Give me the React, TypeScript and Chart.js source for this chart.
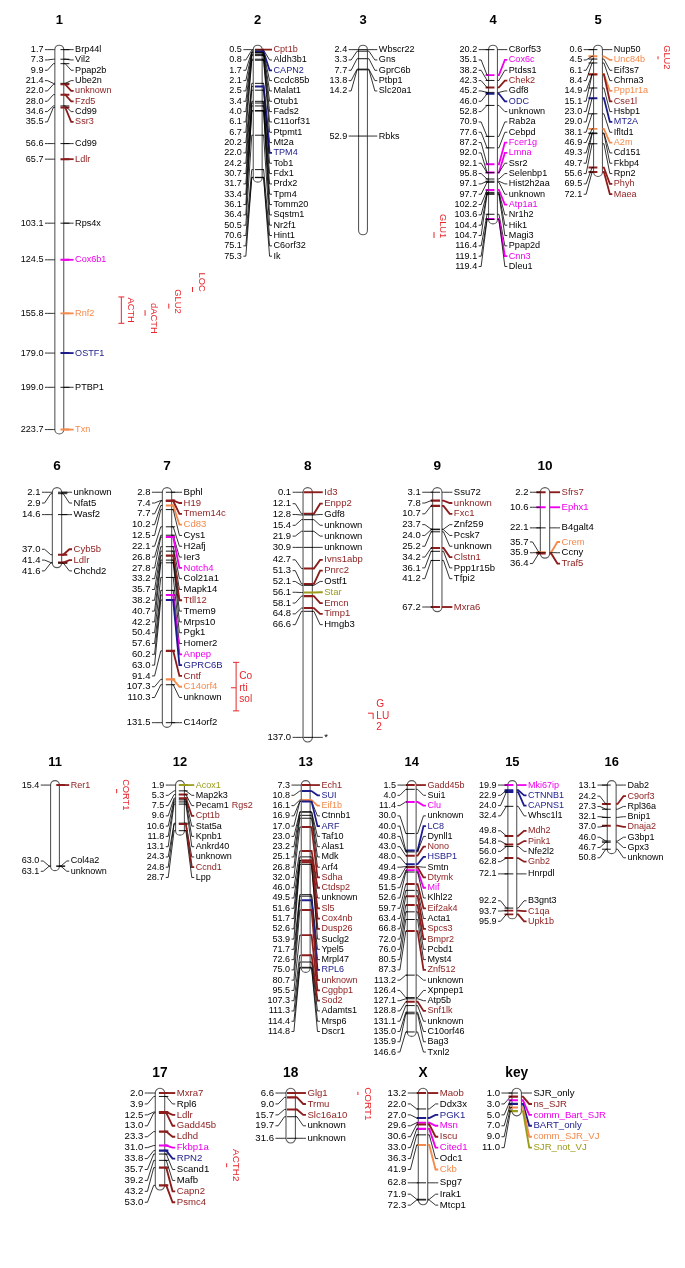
import React, { useEffect, useRef } from 'react';
import { Chart, registerables } from 'chart.js';

Chart.register(...registerables);

const W = 685;
const H = 1268;

// ---------------- DATA ----------------
// category codes: K = SJR_only, R = ns_SJR, M = comm_Bart_SJR, B = BART_only, O = comm_SJR_VJ, Y = SJR_not_VJ
const chr1Pos = [1.7, 7.3, 9.9, 21.4, 22.0, 28.0, 34.6, 35.5, 56.6, 65.7, 103.1, 124.5, 155.8, 179.0, 199.0, 223.7];
const chr1Genes = ['Brp44l', 'Vil2', 'Ppap2b', 'Ube2n', 'unknown', 'Fzd5', 'Cd99', 'Ssr3', 'Cd99', 'Ldlr', 'Rps4x', 'Cox6b1', 'Rnf2', 'OSTF1', 'PTBP1', 'Txn'];
const chr1Cats = 'KKKKRRKRKRKMOBKO';

const chr2Pos = [0.5, 0.8, 1.7, 2.1, 2.5, 3.4, 4.0, 6.1, 6.7, 20.2, 22.0, 24.2, 30.7, 31.7, 33.4, 36.1, 36.4, 50.5, 70.6, 75.1, 75.3];
const chr2Genes = ['Cpt1b', 'Aldh3b1', 'CAPN2', 'Ccdc85b', 'Malat1', 'Otub1', 'Fads2', 'C11orf31', 'Ptpmt1', 'Mt2a', 'TPM4', 'Tob1', 'Fdx1', 'Prdx2', 'Tpm4', 'Tomm20', 'Sqstm1', 'Nr2f1', 'Hint1', 'C6orf32', 'Ik'];
const chr2Cats = 'RKBKKKKKKKBKKKKKKKKKK';

const chr3Pos = [2.4, 3.3, 7.7, 13.8, 14.2, 52.9];
const chr3Genes = ['Wbscr22', 'Gns', 'GprC6b', 'Ptbp1', 'Slc20a1', 'Rbks'];
const chr3Cats = 'KKKKKK';

const chr4Pos = [20.2, 35.1, 38.2, 42.3, 45.2, 46.0, 52.8, 70.9, 77.6, 87.2, 92.0, 92.1, 95.8, 97.1, 97.7, 102.2, 103.6, 104.4, 104.7, 116.4, 119.1, 119.4];
const chr4Genes = ['C8orf53', 'Cox6c', 'Ptdss1', 'Chek2', 'Gdf8', 'ODC', 'unknown', 'Rab2a', 'Cebpd', 'Fcer1g', 'Lmna', 'Ssr2', 'Selenbp1', 'Hist2h2aa', 'unknown', 'Atp1a1', 'Nr1h2', 'Hik1', 'Magi3', 'Ppap2d', 'Cnn3', 'Dleu1'];
const chr4Cats = 'KMKRKBKKKMMKKKKMKKKKMK';

const chr5Pos = [0.6, 4.5, 6.1, 8.4, 14.9, 15.1, 23.0, 29.0, 38.1, 46.9, 49.3, 49.7, 55.6, 69.5, 72.1];
const chr5Genes = ['Nup50', 'Unc84b', 'Eif3s7', 'Chrna3', 'Ppp1r1a', 'Cse1l', 'Hsbp1', 'MT2A', 'Ifltd1', 'A2m', 'Cd151', 'Fkbp4', 'Rpn2', 'Phyh', 'Maea'];
const chr5Cats = 'KOKKORKBKOKKKRR';

const chr6Pos = [2.1, 2.9, 14.6, 37.0, 41.4, 41.6];
const chr6Genes = ['unknown', 'Nfat5', 'Wasf2', 'Cyb5b', 'Ldlr', 'Chchd2'];
const chr6Cats = 'KKKRRK';

const chr7Pos = [2.8, 7.4, 7.7, 10.2, 12.5, 22.1, 26.8, 27.8, 33.2, 35.7, 38.2, 40.7, 42.2, 50.4, 57.6, 60.2, 63.0, 91.4, 107.3, 110.3, 131.5];
const chr7Genes = ['Bphl', 'H19', 'Tmem14c', 'Cd83', 'Cys1', 'H2afj', 'Ier3', 'Notch4', 'Col21a1', 'Mapk14', 'Ttll12', 'Tmem9', 'Mrps10', 'Pgk1', 'Homer2', 'Anpep', 'GPRC6B', 'Cntf', 'C14orf4', 'unknown', 'C14orf2'];
const chr7Cats = 'KRROKKKMKKRKKKKMBROKK';

const chr8Pos = [0.1, 12.1, 12.8, 15.4, 21.9, 30.9, 42.7, 51.3, 52.1, 56.1, 58.1, 64.8, 66.6, 137.0];
const chr8Genes = ['Id3', 'Enpp2', 'Gdf8', 'unknown', 'unknown', 'unknown', 'Ivns1abp', 'Pnrc2', 'Ostf1', 'Star', 'Emcn', 'Timp1', 'Hmgb3', '*'];
const chr8Cats = 'RRKKKKRRKYRRKK';

const chr9Pos = [3.1, 7.8, 10.7, 23.7, 24.0, 25.2, 34.2, 36.1, 41.2, 67.2];
const chr9Genes = ['Ssu72', 'unknown', 'Fxc1', 'Znf259', 'Pcsk7', 'unknown', 'Clstn1', 'Ppp1r15b', 'Tfpi2', 'Mxra6'];
const chr9Cats = 'KRRKKKRKKR';

const chr10Pos = [2.2, 10.6, 22.1, 35.7, 35.9, 36.4];
const chr10Genes = ['Sfrs7', 'Ephx1', 'B4galt4', 'Crem', 'Ccny', 'Traf5'];
const chr10Cats = 'RMKOKR';

const chr11Pos = [15.4, 63.0, 63.1];
const chr11Genes = ['Rer1', 'Col4a2', 'unknown'];
const chr11Cats = 'RKK';

const chr12Pos = [1.9, 5.3, 7.5, 9.6, 10.6, 11.8, 13.1, 24.3, 24.8, 28.7];
const chr12Genes = ['Acox1', 'Map2k3', 'Pecam1', 'Cpt1b', 'Stat5a', 'Kpnb1', 'Ankrd40', 'unknown', 'Ccnd1', 'Lpp'];
const chr12Cats = 'YKKRKKKKRK';

const chr13Pos = [7.3, 10.8, 16.1, 16.9, 17.0, 23.0, 23.2, 25.1, 26.8, 32.0, 46.0, 49.5, 51.6, 51.7, 52.6, 53.9, 71.7, 72.6, 75.0, 80.7, 95.5, 107.3, 111.3, 114.4, 114.8];
const chr13Genes = ['Ech1', 'SUI', 'Eif1b', 'Ctnnb1', 'ARF', 'Taf10', 'Alas1', 'Mdk', 'Arf4', 'Sdha', 'Ctdsp2', 'unknown', 'Sl5', 'Cox4nb', 'Dusp26', 'Suclg2', 'Ypel5', 'Mrpl47', 'RPL6', 'unknown', 'Cggbp1', 'Sod2', 'Adamts1', 'Mrsp6', 'Dscr1'];
const chr13Cats = 'RBOKBKKKKRRKRRRKKKBRRRKKK';

const chr14Pos = [1.5, 4.0, 11.4, 30.0, 40.0, 40.8, 43.0, 48.0, 49.4, 49.8, 51.5, 52.6, 59.7, 63.4, 66.8, 72.0, 76.0, 80.5, 87.3, 113.2, 126.4, 127.1, 128.8, 131.1, 135.0, 135.9, 146.6];
const chr14Genes = ['Gadd45b', 'Sui1', 'Clu', 'unknown', 'LC8', 'Dynll1', 'Nono', 'HSBP1', 'Smtn', 'Dtymk', 'Mif', 'Klhl22', 'Eif2ak4', 'Acta1', 'Spcs3', 'Bmpr2', 'Pcbd1', 'Myst4', 'Znf512', 'unknown', 'Xpnpep1', 'Atp5b', 'Snf1lk', 'unknown', 'C10orf46', 'Bag3', 'Txnl2'];
const chr14Cats = 'RKMKBKRBKRMKRKRRKKRKKKRKKKK';

const chr15Pos = [19.9, 22.9, 24.0, 32.4, 49.8, 54.8, 56.0, 62.8, 72.1, 92.2, 93.7, 95.9];
const chr15Genes = ['Mki67ip', 'CTNNB1', 'CAPNS1', 'Whsc1l1', 'Mdh2', 'Pink1', 'Nfe2l2', 'Gnb2', 'Hnrpdl', 'B3gnt3', 'C1qa', 'Upk1b'];
const chr15Cats = 'MBBKRRKRKKRR';

const chr16Pos = [13.1, 24.2, 27.3, 32.1, 37.0, 46.0, 46.7, 50.8];
const chr16Genes = ['Dab2', 'C9orf3', 'Rpl36a', 'Bnip1', 'Dnaja2', 'G3bp1', 'Gpx3', 'unknown'];
const chr16Cats = 'KRKKRKKK';

const chr17Pos = [2.0, 3.9, 12.5, 13.0, 23.3, 31.0, 33.8, 35.7, 39.2, 43.2, 53.0];
const chr17Genes = ['Mxra7', 'Rpl6', 'Ldlr', 'Gadd45b', 'Ldhd', 'Fkbp1a', 'RPN2', 'Scand1', 'Mafb', 'Capn2', 'Psmc4'];
const chr17Cats = 'RKRRRMBKKRR';

const chr18Pos = [6.6, 9.0, 15.7, 19.7, 31.6];
const chr18Genes = ['Glg1', 'Trmu', 'Slc16a10', 'unknown', 'unknown'];
const chr18Cats = 'RRRKK';

const chrXPos = [13.2, 22.0, 27.0, 29.6, 30.6, 33.0, 36.3, 41.9, 62.8, 71.9, 72.3];
const chrXGenes = ['Maob', 'Ddx3x', 'PGK1', 'Msn', 'Iscu', 'Cited1', 'Odc1', 'Ckb', 'Spg7', 'Irak1', 'Mtcp1'];
const chrXCats = 'RKBMRMKOKKK';

const keyPos = [1.0, 3.0, 5.0, 7.0, 9.0, 11.0];
const keyGenes = ['SJR_only', 'ns_SJR', 'comm_Bart_SJR', 'BART_only', 'comm_SJR_VJ', 'SJR_not_VJ'];
const keyCats = 'KRMBOY';

// chromosome ends that go beyond the last marker (cM)
const chromEndIds = ['3'];
const chromEndValues = [108];

// second gene name sharing a marker position
const extraChrom = ['12'];
const extraPos = [7.5];
const extraName = ['Rgs2'];
const extraCat = ['R'];

// QTL intervals (cM)
const qtlChrom = ['1', '1', '1', '1', '3', '5', '7', '8', '11', '17', '18'];
const qtlText = ['ACTH', 'dACTH', 'GLU2', 'LOC', 'GLU1', 'GLU2', 'Co|rti|sol', 'G|LU|2', 'CORT1', 'ACTH2', 'CORT1'];
const qtlFrom = [146.2, 153.9, 150.1, 140.4, 109.0, 4.5, 97.8, 123.5, 17.7, 40.8, 5.9];
const qtlTo = [161.6, 157.2, 153.0, 143.3, 112.5, 6.2, 124.9, 126.8, 20.2, 43.0, 7.7];
const qtlPeak: (number | null)[] = [null, null, null, null, null, null, 112.0, 123.5, null, null, null];
const qtlTextAt = [153.9, 158.7, 148.8, 137.5, 105.5, 5.1, 112.0, 125.1, 21.1, 41.9, 12.6];
const qtlColumn = [0, 1, 2, 3, 0.4, 0, 0, 0, 0, 0, 0];

const CAT_COLORS: Record<string, string> = {
  K: '#000000',
  R: '#8c1d1d',
  M: '#ee00ee',
  B: '#1c1c8c',
  O: '#f48a4c',
  Y: '#9b9b1b',
};
const QTL_COLOR = '#e8262c';

// ---------------- LAYOUT ----------------
type Chrom = { id: string; pos: number[]; genes: string[]; cats: string };
const CHROMS: Chrom[] = [
  { id: '1', pos: chr1Pos, genes: chr1Genes, cats: chr1Cats },
  { id: '2', pos: chr2Pos, genes: chr2Genes, cats: chr2Cats },
  { id: '3', pos: chr3Pos, genes: chr3Genes, cats: chr3Cats },
  { id: '4', pos: chr4Pos, genes: chr4Genes, cats: chr4Cats },
  { id: '5', pos: chr5Pos, genes: chr5Genes, cats: chr5Cats },
  { id: '6', pos: chr6Pos, genes: chr6Genes, cats: chr6Cats },
  { id: '7', pos: chr7Pos, genes: chr7Genes, cats: chr7Cats },
  { id: '8', pos: chr8Pos, genes: chr8Genes, cats: chr8Cats },
  { id: '9', pos: chr9Pos, genes: chr9Genes, cats: chr9Cats },
  { id: '10', pos: chr10Pos, genes: chr10Genes, cats: chr10Cats },
  { id: '11', pos: chr11Pos, genes: chr11Genes, cats: chr11Cats },
  { id: '12', pos: chr12Pos, genes: chr12Genes, cats: chr12Cats },
  { id: '13', pos: chr13Pos, genes: chr13Genes, cats: chr13Cats },
  { id: '14', pos: chr14Pos, genes: chr14Genes, cats: chr14Cats },
  { id: '15', pos: chr15Pos, genes: chr15Genes, cats: chr15Cats },
  { id: '16', pos: chr16Pos, genes: chr16Genes, cats: chr16Cats },
  { id: '17', pos: chr17Pos, genes: chr17Genes, cats: chr17Cats },
  { id: '18', pos: chr18Pos, genes: chr18Genes, cats: chr18Cats },
  { id: 'X', pos: chrXPos, genes: chrXGenes, cats: chrXCats },
  { id: 'key', pos: keyPos, genes: keyGenes, cats: keyCats },
];

type Row = { ids: string[]; centers: number[]; titleY: number; topY: number; k: number };
const ROWS: Row[] = [
  { ids: ['1', '2', '3', '4', '5'], centers: [59.3, 257.7, 363, 493, 598], titleY: 20, topY: 43.3, k: 1.73 },
  { ids: ['6', '7', '8', '9', '10'], centers: [57, 167, 307.7, 437.3, 545], titleY: 466, topY: 490.7, k: 1.81 },
  { ids: ['11', '12', '13', '14', '15', '16'], centers: [55, 180, 305.7, 411.7, 512.3, 611.7], titleY: 762, topY: 786.7, k: 1.72 },
  { ids: ['17', '18', 'X', 'key'], centers: [160, 290.7, 423, 516.7], titleY: 1073, topY: 1098, k: 1.83 },
];

type Placed = { chrom: Chrom; cx: number; row: Row };
const PLACED: Placed[] = [];
ROWS.forEach((row) => {
  row.ids.forEach((id, j) => {
    const chrom = CHROMS.find((c) => c.id === id)!;
    PLACED.push({ chrom, cx: row.centers[j], row });
  });
});

const FONT = '"Liberation Sans", Arial, Helvetica, sans-serif';

function chromEnd(c: Chrom): number {
  const i = chromEndIds.indexOf(c.id);
  return i >= 0 ? chromEndValues[i] : c.pos[c.pos.length - 1];
}

function spread(actual: number[], d: number, topBound: number): number[] {
  type G = { i0: number; n: number; sum: number; top: number };
  const gs: G[] = actual.map((a, i) => ({ i0: i, n: 1, sum: a, top: Math.max(a, topBound) }));
  let merged = true;
  while (merged) {
    merged = false;
    for (let j = 0; j < gs.length - 1; j++) {
      const A = gs[j];
      const B = gs[j + 1];
      if (A.top + A.n * d > B.top + 0.01) {
        const n = A.n + B.n;
        const sum = A.sum + B.sum;
        const top = Math.max(topBound, sum / n - ((n - 1) * d) / 2);
        gs.splice(j, 2, { i0: A.i0, n, sum, top });
        merged = true;
        break;
      }
    }
  }
  const out: number[] = new Array(actual.length);
  gs.forEach((g) => {
    for (let t = 0; t < g.n; t++) out[g.i0 + t] = g.top + t * d;
  });
  return out;
}

const mapPlugin = {
  id: 'chromMap',
  beforeDatasetsDraw(chart: any) {
    const ctx: CanvasRenderingContext2D = chart.ctx;
    ctx.save();
    PLACED.forEach(({ chrom, cx, row }) => {
      const ys = chart.scales['y_' + chrom.id];
      const f = row.k / 1.75;
      const hw = 4.5 * f;
      const top = ys.getPixelForValue(chrom.pos[0]) - hw;
      const bot = ys.getPixelForValue(chromEnd(chrom)) + hw;
      ctx.beginPath();
      (ctx as any).roundRect(cx - hw, top, 2 * hw, bot - top, hw);
      ctx.fillStyle = '#ffffff';
      ctx.fill();
      ctx.strokeStyle = '#5a5a5a';
      ctx.lineWidth = 1.1;
      ctx.stroke();
    });
    ctx.restore();
  },
  afterDatasetsDraw(chart: any) {
    const ctx: CanvasRenderingContext2D = chart.ctx;
    ctx.save();
    PLACED.forEach(({ chrom: c, cx, row }) => {
      const ys = chart.scales['y_' + c.id];
      const k = row.k;
      const f = k / 1.75;
      const hw = 4.5 * f;
      const g = 11.5 * f;
      const d = 5.97 * k;
      const fs = 5.25 * k;
      const bl = cx - hw;
      const br = cx + hw;
      const my = c.pos.map((v) => ys.getPixelForValue(v));
      const ly = spread(my, d, my[0]);
      ctx.font = `${fs}px ${FONT}`;
      ctx.textBaseline = 'middle';
      let maxRight = br;
      c.pos.forEach((v, i) => {
        const cat = c.cats[i];
        const col = CAT_COLORS[cat];
        // left connector (black)
        ctx.strokeStyle = '#000';
        ctx.lineWidth = 0.8;
        ctx.beginPath();
        ctx.moveTo(bl - g + 1.5, ly[i]);
        ctx.lineTo(bl - g + 4 * f, ly[i]);
        ctx.lineTo(bl - 1.5 * f, my[i]);
        ctx.lineTo(bl, my[i]);
        ctx.stroke();
        // right connector (category colour)
        ctx.strokeStyle = col;
        ctx.lineWidth = cat === 'K' ? 0.8 : 1.8 * f;
        ctx.beginPath();
        ctx.moveTo(br, my[i]);
        ctx.lineTo(br + 1.5 * f, my[i]);
        ctx.lineTo(br + g - 4 * f, ly[i]);
        ctx.lineTo(br + g - 1.5, ly[i]);
        ctx.stroke();
        // texts
        ctx.fillStyle = '#000';
        ctx.textAlign = 'right';
        ctx.fillText(v.toFixed(1), bl - g, ly[i]);
        ctx.fillStyle = col;
        ctx.textAlign = 'left';
        ctx.fillText(c.genes[i], br + g, ly[i]);
        let right = br + g + ctx.measureText(c.genes[i]).width;
        extraChrom.forEach((ec, e) => {
          if (ec === c.id && extraPos[e] === v) {
            ctx.fillStyle = CAT_COLORS[extraCat[e]];
            const ex = right + 3 * f;
            ctx.fillText(extraName[e], ex, ly[i]);
            right = ex + ctx.measureText(extraName[e]).width;
          }
        });
        maxRight = Math.max(maxRight, right);
      });
      // title
      ctx.font = `bold ${7.5 * k}px ${FONT}`;
      ctx.textAlign = 'center';
      ctx.fillStyle = '#000';
      ctx.fillText(c.id, cx, row.titleY);

      // QTLs
      qtlChrom.forEach((qc, q) => {
        if (qc !== c.id) return;
        const x = maxRight + 10 * f + qtlColumn[q] * 24 * f;
        const y0 = ys.getPixelForValue(qtlFrom[q]);
        const y1 = ys.getPixelForValue(qtlTo[q]);
        ctx.strokeStyle = QTL_COLOR;
        ctx.lineWidth = 1;
        ctx.beginPath();
        ctx.moveTo(x, y0);
        ctx.lineTo(x, y1);
        if (y1 - y0 > 12) {
          ctx.moveTo(x - 3 * f, y0);
          ctx.lineTo(x + 3 * f, y0);
          ctx.moveTo(x - 3 * f, y1);
          ctx.lineTo(x + 3 * f, y1);
        }
        const pk = qtlPeak[q];
        if (pk !== null) {
          const yp = ys.getPixelForValue(pk);
          ctx.moveTo(x - 5 * f, yp);
          ctx.lineTo(x, yp);
        }
        ctx.stroke();
        const yt = ys.getPixelForValue(qtlTextAt[q]);
        ctx.fillStyle = QTL_COLOR;
        const txt = qtlText[q];
        if (txt.indexOf('|') >= 0) {
          const lines = txt.split('|');
          const lh = 11 * f;
          ctx.font = `${5.6 * k}px ${FONT}`;
          ctx.textAlign = 'left';
          ctx.textBaseline = 'middle';
          lines.forEach((ln, li) => {
            ctx.fillText(ln, x + 3 * f, yt + (li - (lines.length - 1) / 2) * lh);
          });
        } else {
          ctx.font = `${5.4 * k}px ${FONT}`;
          ctx.save();
          ctx.translate(x + 9 * f, yt);
          ctx.rotate(Math.PI / 2);
          ctx.textAlign = 'center';
          ctx.textBaseline = 'middle';
          ctx.fillText(txt, 0, 0);
          ctx.restore();
        }
      });
    });
    ctx.restore();
  },
};

export default function App() {
  const ref = useRef<HTMLCanvasElement>(null);
  useEffect(() => {
    document.body.style.margin = '0';
    const canvas = ref.current;
    if (!canvas) return;
    const scales: any = {
      x: { type: 'linear', min: 0, max: W, display: false, bounds: 'data' },
    };
    const datasets: any[] = [];
    PLACED.forEach(({ chrom, cx, row }) => {
      const k = row.k;
      const f = k / 1.75;
      const min = chrom.pos[0] - row.topY / k;
      scales['y_' + chrom.id] = {
        type: 'linear',
        display: false,
        reverse: true,
        min,
        max: min + H / k,
        bounds: 'data',
      };
      const pts: { x: number; y: number }[] = chrom.pos.map((v) => ({ x: cx, y: v }));
      const cats = chrom.cats.split('');
      extraChrom.forEach((ec, e) => {
        if (ec === chrom.id) {
          pts.push({ x: cx, y: extraPos[e] });
          cats.push(extraCat[e]);
        }
      });
      datasets.push({
        type: 'scatter',
        label: chrom.id,
        data: pts,
        xAxisID: 'x',
        yAxisID: 'y_' + chrom.id,
        pointStyle: 'line',
        pointRadius: 4.5 * f,
        pointBorderColor: cats.map((ct) => CAT_COLORS[ct]),
        pointBackgroundColor: cats.map((ct) => CAT_COLORS[ct]),
        pointBorderWidth: cats.map((ct) => (ct === 'K' ? 0.9 : 2 * f)),
        showLine: false,
      });
    });
    const chart = new Chart(canvas, {
      type: 'scatter',
      data: { datasets },
      options: {
        animation: false,
        responsive: false,
        maintainAspectRatio: false,
        events: [],
        layout: { padding: 0 },
        plugins: {
          legend: { display: false },
          tooltip: { enabled: false },
          title: { display: false },
        },
        scales,
      } as any,
      plugins: [mapPlugin as any],
    });
    return () => chart.destroy();
  }, []);
  return <canvas ref={ref} width={W} height={H} style={{ display: 'block' }} />;
}
